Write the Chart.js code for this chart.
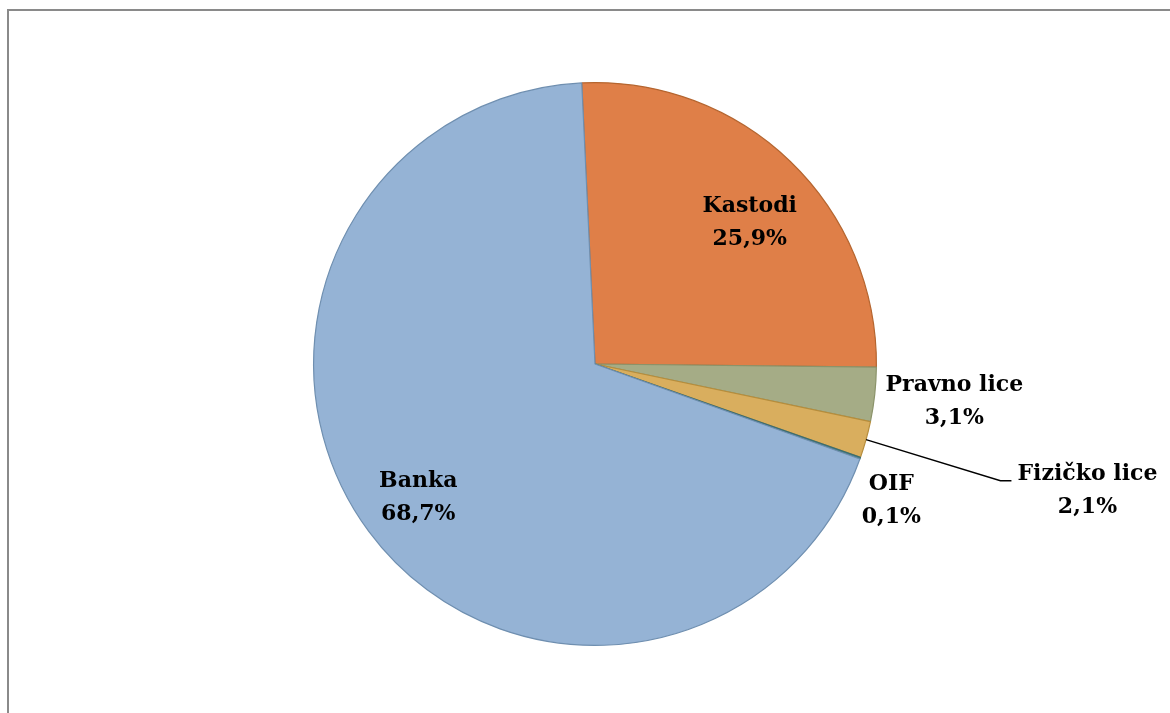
<!DOCTYPE html>
<html>
<head>
<meta charset="utf-8">
<script src="https://cdn.jsdelivr.net/npm/chart.js@4"></script>
<style>
  body { margin: 0; background: #fff; overflow: hidden; }
  #frame { position: absolute; left: 7px; top: 9px; width: 1200px; height: 760px; border: 2px solid #8a8a8a; }
  #pieChart { position: absolute; left: 0; top: 0; }
</style>
</head>
<body>
<div id="frame"></div>
<canvas id="pieChart" width="1170" height="713"></canvas>
<script>
// Slice data (clockwise from the top)
const categories = ['Kastodi', 'Pravno lice', 'Fizičko lice', 'OIF', 'Banka'];
const shares = [25.9, 3.1, 2.1, 0.1, 68.7];
const shareLabels = ['25,9%', '3,1%', '2,1%', '0,1%', '68,7%'];

const fills = ['#df7f48', '#a5ac86', '#d9ae5e', '#4e8a8c', '#95b3d5'];
const borders = ['#b5652f', '#8b936a', '#b68d3c', '#3d6d70', '#6f8fb0'];

// label position in units of the radius, relative to the pie centre
const labelOffsets = [[0.55, -0.503], [1.277, 0.135], [1.75, 0.45], [1.053, 0.485], [-0.628, 0.475]];

const sliceLabels = {
    id: 'sliceLabels',
    afterDatasetsDraw(chart) {
        const ctx = chart.ctx;
        const arcs = chart.getDatasetMeta(0).data;
        ctx.save();
        ctx.font = 'bold 22px "DejaVu Serif", serif';
        ctx.fillStyle = '#000';
        ctx.textAlign = 'center';
        ctx.textBaseline = 'middle';
        arcs.forEach(function(arc, i) {
            const r = arc.outerRadius;
            const x = arc.x + labelOffsets[i][0] * r;
            const y = arc.y + labelOffsets[i][1] * r;
            if (categories[i] === 'Fizičko lice') {
                // leader line from the slice edge
                const mid = (arc.startAngle + arc.endAngle) / 2;
                ctx.beginPath();
                ctx.strokeStyle = '#000';
                ctx.lineWidth = 1.5;
                ctx.moveTo(arc.x + Math.cos(mid) * r, arc.y + Math.sin(mid) * r);
                ctx.lineTo(x - 87, y - 10);
                ctx.lineTo(x - 76, y - 10);
                ctx.stroke();
            }
            ctx.fillText(categories[i], x, y - 16.5);
            ctx.fillText(shareLabels[i], x, y + 16.5);
        });
        ctx.restore();
    }
};

new Chart(document.getElementById('pieChart'), {
    type: 'pie',
    data: {
        labels: categories,
        datasets: [{
            data: shares,
            backgroundColor: fills,
            borderColor: borders,
            borderWidth: 1.2
        }]
    },
    options: {
        responsive: false,
        animation: false,
        rotation: -2.7,
        layout: { padding: { left: 313, right: 293, top: 82, bottom: 67 } },
        plugins: {
            legend: { display: false },
            tooltip: { enabled: false }
        }
    },
    plugins: [sliceLabels]
});
</script>
</body>
</html>
